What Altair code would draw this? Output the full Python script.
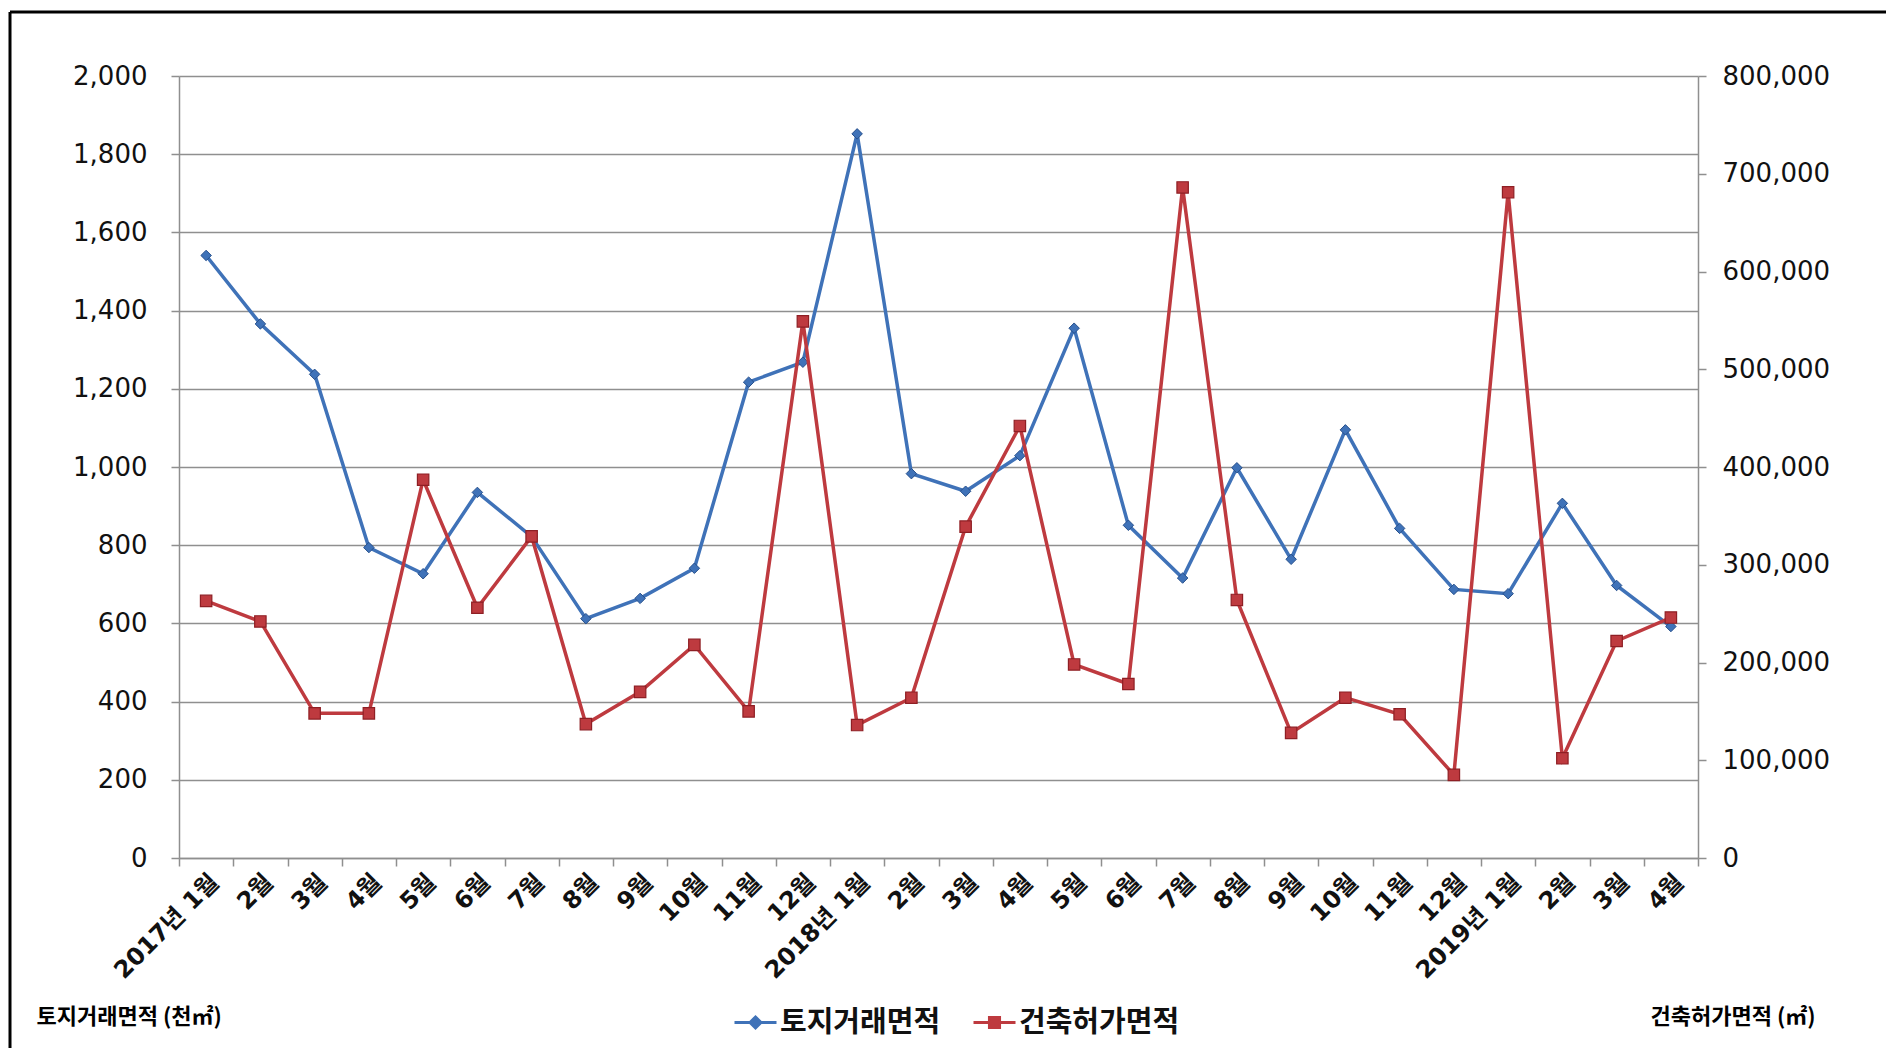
import altair as alt
import pandas as pd

# ---- data ----
months = ["2017년 1월", "2월", "3월", "4월", "5월", "6월", "7월", "8월", "9월", "10월", "11월", "12월",
          "2018년 1월", "2월", "3월", "4월", "5월", "6월", "7월", "8월", "9월", "10월", "11월", "12월",
          "2019년 1월", "2월", "3월", "4월"]
land_area = [1541, 1366, 1237, 794, 727, 935, 822, 612, 664, 741, 1217, 1268,
             1852, 983, 938, 1029, 1355, 851, 716, 998, 764, 1095, 843, 687,
             676, 907, 697, 592]
permit_area = [263000, 242000, 148000, 148000, 387000, 256000, 329000, 137000, 170000, 218000, 150000, 549000,
               136000, 164000, 339000, 442000, 198000, 178000, 686000, 264000, 128000, 164000, 147000, 85000,
               681000, 102000, 222000, 246000]
series_names = ["토지거래면적", "건축허가면적"]
left_ticks = list(range(0, 2001, 200))
right_ticks = list(range(0, 800001, 100000))
axis_titles = ["토지거래면적 (천㎡)", "건축허가면적 (㎡)"]

colors = ["#3F72B8", "#BE3A3F"]
marker_strokes = ["#27508C", "#8E1F24"]

keys = [f"{i:02d}|{m}" for i, m in enumerate(months)]
df = pd.DataFrame({"key": keys, "land": land_area, "permit": permit_area})
df["s1"] = series_names[0]
df["s2"] = series_names[1]

W, H = 1519, 782
PL, PT = 171, 68
NUM_FONT = "DejaVu Sans"
KR_FONT = "Noto Sans CJK KR"
GRAY = "#8F8F8F"

x_enc = alt.X(
    "key:N", sort=keys,
    scale=alt.Scale(type="band", paddingInner=0, paddingOuter=0),
    axis=alt.Axis(title=None, labelExpr="split(datum.label, '|')[1]", labelAngle=-45,
                  labelFontSize=24, labelFont=f"{NUM_FONT}, {KR_FONT}", labelFontWeight="bold",
                  labelColor="#111111", labelOverlap=False, tickBand="extent", tickSize=8,
                  tickColor=GRAY, tickWidth=1.5, domainColor=GRAY, domainWidth=1.5,
                  labelPadding=4, grid=False),
)

y_left = alt.Y(
    "land:Q", scale=alt.Scale(domain=[0, 2000], nice=False),
    axis=alt.Axis(orient="left", values=left_ticks, format=",d", grid=True, gridColor=GRAY,
                  gridWidth=1.5, tickSize=8, tickColor=GRAY, tickWidth=1.5, domainColor=GRAY,
                  domainWidth=1.5, labelFont=NUM_FONT, labelFontSize=26, labelColor="#111111",
                  labelPadding=24,
                  title=axis_titles[0], titleAngle=0, titleAlign="left", titleBaseline="middle",
                  titleX=36 - 179, titleY=1016 - 76, titleFont=KR_FONT, titleFontSize=22,
                  titleFontWeight="bold", titleColor="black"),
)

y_right = alt.Y(
    "permit:Q", scale=alt.Scale(domain=[0, 800000], nice=False),
    axis=alt.Axis(orient="right", values=right_ticks, format=",d", grid=False, tickSize=8,
                  tickColor=GRAY, tickWidth=1.5, domainColor=GRAY, domainWidth=1.5,
                  labelFont=NUM_FONT, labelFontSize=26, labelColor="#111111", labelPadding=16,
                  title=axis_titles[1], titleAngle=0, titleAlign="left", titleBaseline="middle",
                  titleX=1650 - 1698, titleY=1016 - 76, titleFont=KR_FONT, titleFontSize=22,
                  titleFontWeight="bold", titleColor="black"),
)

diamond_leg = "M-1,0L1,0M0,-0.26L0.26,0L0,0.26L-0.26,0Z"
square_leg = "M-1,0L1,0M-0.24,-0.24L0.24,-0.24L0.24,0.24L-0.24,0.24Z"


def legend(sym, col, lx):
    return alt.Legend(title=None, orient="none", legendX=lx, legendY=1021 - 21 - 76,
                      symbolType=sym, symbolSize=1764, symbolStrokeColor=col, symbolFillColor=col,
                      symbolStrokeWidth=3, labelFont=KR_FONT, labelFontSize=29,
                      labelFontWeight="bold", labelColor="#111111", labelOffset=2, padding=0,
                      labelLimit=400)


base = alt.Chart(df)
one = pd.DataFrame({"f": [0]})

frame_top = alt.Chart(one).mark_rule(color="black", strokeWidth=3).encode(
    x=alt.value(10 - 179), x2=alt.value(2300), y=alt.value(12 - 76))
frame_left = alt.Chart(one).mark_rule(color="black", strokeWidth=3).encode(
    x=alt.value(10 - 179), y=alt.value(12 - 76), y2=alt.value(1300))

line_a = base.mark_line(color=colors[0], strokeWidth=3.5).encode(x=x_enc, y=y_left)
pts_a = base.mark_point(shape="diamond", filled=True, size=110, opacity=1,
                        stroke=marker_strokes[0], strokeWidth=1).encode(
    x=x_enc, y=y_left,
    color=alt.Color("s1:N", scale=alt.Scale(domain=[series_names[0]], range=[colors[0]]),
                    legend=legend(diamond_leg, colors[0], 733 - 179)),
)

line_b = base.mark_line(color=colors[1], strokeWidth=3.5).encode(x=x_enc, y=y_right)
pts_b = base.mark_point(shape="square", filled=True, size=130, opacity=1,
                        stroke=marker_strokes[1], strokeWidth=1.2).encode(
    x=x_enc, y=y_right,
    color=alt.Color("s2:N", scale=alt.Scale(domain=[series_names[1]], range=[colors[1]]),
                    legend=legend(square_leg, colors[1], 972 - 179)),
)

layer_a = alt.layer(frame_top, frame_left, line_a, pts_a)
layer_b = alt.layer(line_b, pts_b)

chart = alt.layer(layer_a, layer_b).resolve_scale(
    y="independent", color="independent"
).properties(
    width=W, height=H,
    autosize=alt.AutoSizeParams(type="none"),
    padding={"left": PL, "top": PT, "right": 1878 - PL - W, "bottom": 1040 - PT - H},
    background="white",
).configure_view(stroke="transparent")

chart.save("out.html", embed_options={"renderer": "svg", "actions": False})
